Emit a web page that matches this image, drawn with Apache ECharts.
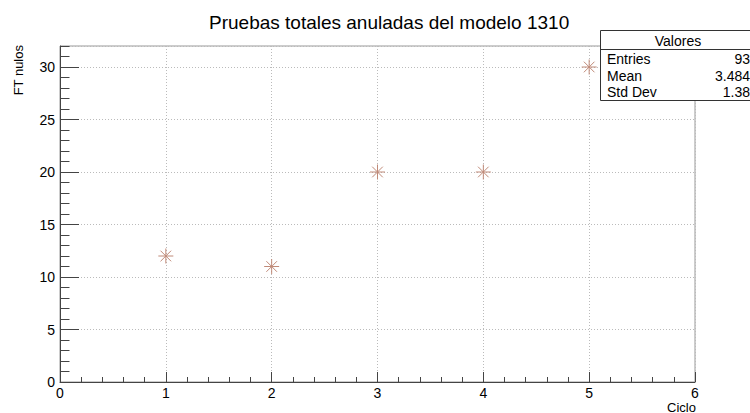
<!DOCTYPE html>
<html><head><meta charset="utf-8">
<script src="https://cdn.jsdelivr.net/npm/echarts@6/dist/echarts.min.js"></script>
<style>html,body{margin:0;padding:0;background:#fff}#c{width:750px;height:413px}</style>
</head><body><div id="c"></div>
<script>
const cycles = [1, 2, 3, 4, 5];
const nulls = [12, 11, 20, 20, 30];
const statLabels = ['Entries', 'Mean', 'Std Dev'];
const statValues = ['93', '3.484', '1.38'];
const xTickLabels = ['0', '1', '2', '3', '4', '5', '6'];
const yTickLabels = ['0', '5', '10', '15', '20', '25', '30'];

const FONT = '"Liberation Sans", Arial, sans-serif';
const chart = echarts.init(document.getElementById('c'), null, {renderer: 'svg'});
const G = {left: 60, right: 55, top: 46, bottom: 31};
const star = 'path://M0,-10L0,10M-10,0L10,0M-7.07,-7.07L7.07,7.07M-7.07,7.07L7.07,-7.07';

const statGraphics = [];
statGraphics.push({type: 'rect', shape: {x: 600.5, y: 30.5, width: 170, height: 70},
  style: {fill: '#fff', stroke: '#333', lineWidth: 1}, z: 100});
statGraphics.push({type: 'line', shape: {x1: 600, y1: 49.5, x2: 770, y2: 49.5},
  style: {stroke: '#333', lineWidth: 1}, z: 101});
statGraphics.push({type: 'text', x: 678, y: 41, z: 102,
  style: {text: 'Valores', font: '14px ' + FONT, fill: '#000', textAlign: 'center', textVerticalAlign: 'middle'}});
statLabels.forEach((l, i) => {
  statGraphics.push({type: 'text', x: 607, y: 59 + i * 16.5, z: 102,
    style: {text: l, font: '14px ' + FONT, fill: '#000', textAlign: 'left', textVerticalAlign: 'middle'}});
  statGraphics.push({type: 'text', x: 750, y: 59 + i * 16.5, z: 102,
    style: {text: statValues[i], font: '14px ' + FONT, fill: '#000', textAlign: 'right', textVerticalAlign: 'middle'}});
});

chart.setOption({
  animation: false,
  title: {text: 'Pruebas totales anuladas del modelo 1310', left: 204, top: 8,
    textStyle: {fontFamily: FONT, fontSize: 19, fontWeight: 'normal', color: '#000'}},
  grid: Object.assign({show: true, borderColor: '#999', borderWidth: 1}, G),
  xAxis: [
    {type: 'value', min: 0, max: 6, interval: 1, position: 'bottom',
      axisLine: {show: true, onZero: false, lineStyle: {color: '#444', width: 1}},
      axisTick: {show: true, inside: true, length: 10, lineStyle: {color: '#444'}},
      axisLabel: {fontFamily: FONT, fontSize: 14, color: '#000', margin: 4,
        formatter: v => xTickLabels[Math.round(v)] ?? ''},
      splitLine: {show: true, lineStyle: {color: '#bbb', type: [1, 2], width: 1}}},
    {type: 'value', min: 0, max: 6, interval: 0.2, position: 'bottom',
      axisLine: {show: false}, axisLabel: {show: false}, splitLine: {show: false},
      axisTick: {show: true, inside: true, length: 5, lineStyle: {color: '#444'}}}
  ],
  yAxis: [
    {type: 'value', min: 0, max: 32, interval: 5, position: 'left',
      axisLine: {show: true, onZero: false, lineStyle: {color: '#444', width: 1}},
      axisTick: {show: true, inside: true, length: 19, lineStyle: {color: '#444'}},
      axisLabel: {fontFamily: FONT, fontSize: 14, color: '#000', margin: 5, showMaxLabel: false,
        formatter: v => yTickLabels[Math.round(v / 5)] ?? ''},
      splitLine: {show: true, lineStyle: {color: '#bbb', type: [1, 2], width: 1}}},
    {type: 'value', min: 0, max: 32, interval: 1, position: 'left',
      axisLine: {show: false}, axisLabel: {show: false}, splitLine: {show: false},
      axisTick: {show: true, inside: true, length: 9.5, lineStyle: {color: '#444'}}}
  ],
  series: [{
    type: 'scatter', xAxisIndex: 0, yAxisIndex: 0,
    data: cycles.map((c, i) => [c, nulls[i]]),
    symbol: star, symbolSize: 15,
    itemStyle: {color: 'rgba(0,0,0,0)', borderColor: '#c08a78', borderWidth: 1, opacity: 1},
    z: 5
  }],
  graphic: [
    {type: 'text', x: 18, y: 45, rotation: Math.PI / 2,
      style: {text: 'FT nulos', font: '13px ' + FONT, fill: '#000', textAlign: 'right', textVerticalAlign: 'middle'}},
    {type: 'text', x: 696, y: 407,
      style: {text: 'Ciclo', font: '13px ' + FONT, fill: '#000', textAlign: 'right', textVerticalAlign: 'middle'}}
  ].concat(statGraphics)
});
</script></body></html>
